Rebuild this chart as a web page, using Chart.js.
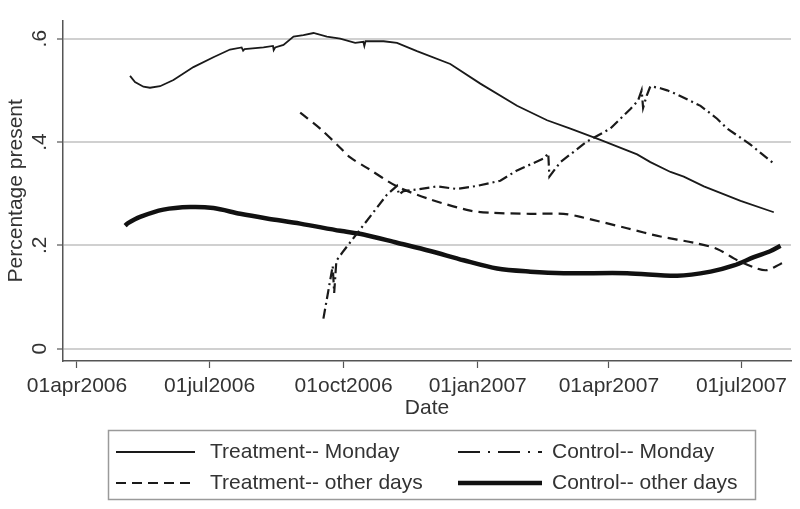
<!DOCTYPE html>
<html>
<head>
<meta charset="utf-8">
<script src="https://cdn.jsdelivr.net/npm/chart.js@4.4.1/dist/chart.umd.min.js"></script>
<style>
  html, body { margin: 0; padding: 0; background: #fff; }
  #wrap { width: 800px; height: 509px; }
</style>
</head>
<body>
<div id="wrap"><canvas id="chart" width="800" height="509"></canvas></div>
<script>
// x values are days since 01apr2006
const tickDays = [0, 91, 183, 275, 365, 456];
const tickLabels = ['01apr2006', '01jul2006', '01oct2006', '01jan2007', '01apr2007', '01jul2007'];
const yTicks = [0, 0.2, 0.4, 0.6];
const yTickLabels = ['0', '.2', '.4', '.6'];

// Treatment-- Monday
const tmDays = [36.4, 39.8, 45.6, 50.1, 57, 66.2, 79.9, 93.6, 105, 113, 114, 115, 128, 134.5, 135, 136, 141.7, 148.6, 155.4, 162.3, 171.5, 180.6, 190.9, 196.5, 197.2, 198, 210.4, 219.6, 233.3, 256.2, 276.8, 302, 322.6, 338.6, 359.2, 384.4, 393.5, 407.3, 416.4, 430.2, 455.4, 478.2];
const tmVals = [0.528, 0.516, 0.507, 0.505, 0.508, 0.52, 0.545, 0.564, 0.579, 0.583, 0.577, 0.580, 0.583, 0.586, 0.578, 0.583, 0.588, 0.604, 0.607, 0.611, 0.604, 0.600, 0.592, 0.594, 0.586, 0.595, 0.595, 0.592, 0.576, 0.551, 0.513, 0.470, 0.442, 0.426, 0.404, 0.376, 0.361, 0.342, 0.333, 0.314, 0.286, 0.264];

// Control-- Monday
const cmDays = [169.1, 175.5, 176.5, 178, 182.9, 196.6, 212.7, 219.6, 221, 224, 233.3, 247, 260.8, 274.5, 290.5, 302, 320.3, 323.4, 324.2, 331.7, 350, 366, 379.8, 385, 387.5, 388.5, 391, 393.5, 400.4, 405, 411.9, 427.9, 439.3, 446.2, 462.2, 478.2];
const cmVals = [0.058, 0.160, 0.108, 0.170, 0.189, 0.239, 0.298, 0.315, 0.298, 0.305, 0.308, 0.314, 0.309, 0.315, 0.325, 0.345, 0.368, 0.378, 0.333, 0.361, 0.401, 0.426, 0.464, 0.480, 0.500, 0.466, 0.490, 0.508, 0.504, 0.500, 0.492, 0.470, 0.445, 0.426, 0.395, 0.358];

// Treatment-- other days
const toDays = [153.2, 166.9, 180.6, 187.5, 199, 219.6, 242.4, 269.9, 283.7, 311.1, 334, 345.5, 377.5, 400.4, 423.3, 439.3, 453.1, 466.8, 473.7, 482.8, 486.3];
const toVals = [0.457, 0.426, 0.389, 0.370, 0.350, 0.314, 0.289, 0.267, 0.263, 0.261, 0.261, 0.255, 0.233, 0.217, 0.205, 0.193, 0.171, 0.155, 0.152, 0.164, 0.168];

// Control-- other days
const coDays = [33, 35, 43.3, 59.3, 77.6, 93.6, 112, 130.3, 153.2, 180.6, 196.6, 219.6, 242.4, 265.3, 288.3, 311.1, 334, 377.5, 411.9, 434.8, 450.8, 464.5, 476, 482.8];
const coVals = [0.238, 0.243, 0.255, 0.269, 0.274, 0.272, 0.261, 0.252, 0.242, 0.228, 0.221, 0.205, 0.189, 0.171, 0.155, 0.149, 0.146, 0.146, 0.141, 0.149, 0.161, 0.177, 0.189, 0.199];

function pts(days, vals) {
  return days.map((d, i) => ({ x: d, y: vals[i] }));
}

Chart.defaults.font.family = '"Liberation Sans", Arial, sans-serif';
Chart.defaults.color = '#333';

// legend drawn as a boxed 2x2 grid like Stata does it
const legendBox = {
  id: 'legendBox',
  afterDraw(chart) {
    const ctx = chart.ctx;
    ctx.save();
    ctx.strokeStyle = '#9a9a9a';
    ctx.lineWidth = 1.5;
    ctx.strokeRect(108.5, 430.5, 647, 69);
    chart.data.datasets.forEach((ds, i) => {
      const col = i % 2;
      const row = Math.floor(i / 2);
      const x0 = col ? 458 : 116;
      const x1 = col ? 542 : 195;
      const y = row ? 483 : 452;
      ctx.beginPath();
      ctx.setLineDash(ds.legendDash || []);
      ctx.lineWidth = ds.borderWidth;
      ctx.strokeStyle = ds.borderColor;
      ctx.moveTo(x0, y);
      ctx.lineTo(x1, y);
      ctx.stroke();
      ctx.setLineDash([]);
      ctx.fillStyle = '#333';
      ctx.font = '21px "Liberation Sans", Arial, sans-serif';
      ctx.textBaseline = 'middle';
      ctx.textAlign = 'left';
      ctx.fillText(ds.label, col ? 552 : 210, y);
    });
    ctx.restore();
  }
};

new Chart(document.getElementById('chart'), {
  type: 'line',
  data: {
    datasets: [
      {
        label: 'Treatment-- Monday',
        data: pts(tmDays, tmVals),
        borderColor: '#1a1a1a',
        borderWidth: 1.8,
        tension: 0
      },
      {
        label: 'Control-- Monday',
        data: pts(cmDays, cmVals),
        borderColor: '#1a1a1a',
        borderWidth: 2.2,
        borderDash: [10, 4, 2, 4],
        legendDash: [22, 8, 2, 8],
        tension: 0
      },
      {
        label: 'Treatment-- other days',
        data: pts(toDays, toVals),
        borderColor: '#1a1a1a',
        borderWidth: 2.2,
        borderDash: [10, 6],
        legendDash: [10, 6],
        tension: 0.3
      },
      {
        label: 'Control-- other days',
        data: pts(coDays, coVals),
        borderColor: '#111',
        borderWidth: 4.5,
        tension: 0.3
      }
    ]
  },
  options: {
    responsive: false,
    animation: false,
    events: [],
    elements: { point: { radius: 0 } },
    layout: { padding: { top: 8, right: 9, left: 0, bottom: 88 } },
    plugins: { legend: { display: false }, tooltip: { enabled: false } },
    scales: {
      x: {
        type: 'linear',
        min: -9.6,
        max: 490,
        afterBuildTicks: (scale) => { scale.ticks = tickDays.map(v => ({ value: v })); },
        afterFit: (scale) => { scale.height = 60; },
        grid: { drawOnChartArea: false, drawTicks: true, tickLength: 7, tickColor: '#555', tickWidth: 1.2 },
        border: { display: true, color: '#555', width: 1.5 },
        ticks: {
          padding: 6,
          maxRotation: 0,
          autoSkip: false,
          font: { size: 21 },
          color: '#333',
          callback: (v) => tickLabels[tickDays.indexOf(v)] || ''
        },
        title: { display: true, text: 'Date', font: { size: 21 }, color: '#333', padding: { top: 0, bottom: 0 } }
      },
      y: {
        min: -0.024,
        max: 0.635,
        afterBuildTicks: (scale) => { scale.ticks = yTicks.map(v => ({ value: v })); },
        afterFit: (scale) => { scale.width = 63; },
        grid: { color: '#d0d0d0', lineWidth: 2, tickLength: 6, tickColor: '#555', tickWidth: 1.2 },
        border: { display: true, color: '#555', width: 1.5 },
        ticks: {
          minRotation: 90,
          maxRotation: 90,
          crossAlign: 'center',
          padding: 8,
          font: { size: 21 },
          color: '#333',
          callback: (v) => {
            const i = yTicks.findIndex(t => Math.abs(t - v) < 1e-9);
            return i >= 0 ? yTickLabels[i] : '';
          }
        },
        title: { display: true, text: 'Percentage present', font: { size: 21 }, color: '#333', padding: { top: 3.5, bottom: 0 } }
      }
    }
  },
  plugins: [legendBox]
});
</script>
</body>
</html>
